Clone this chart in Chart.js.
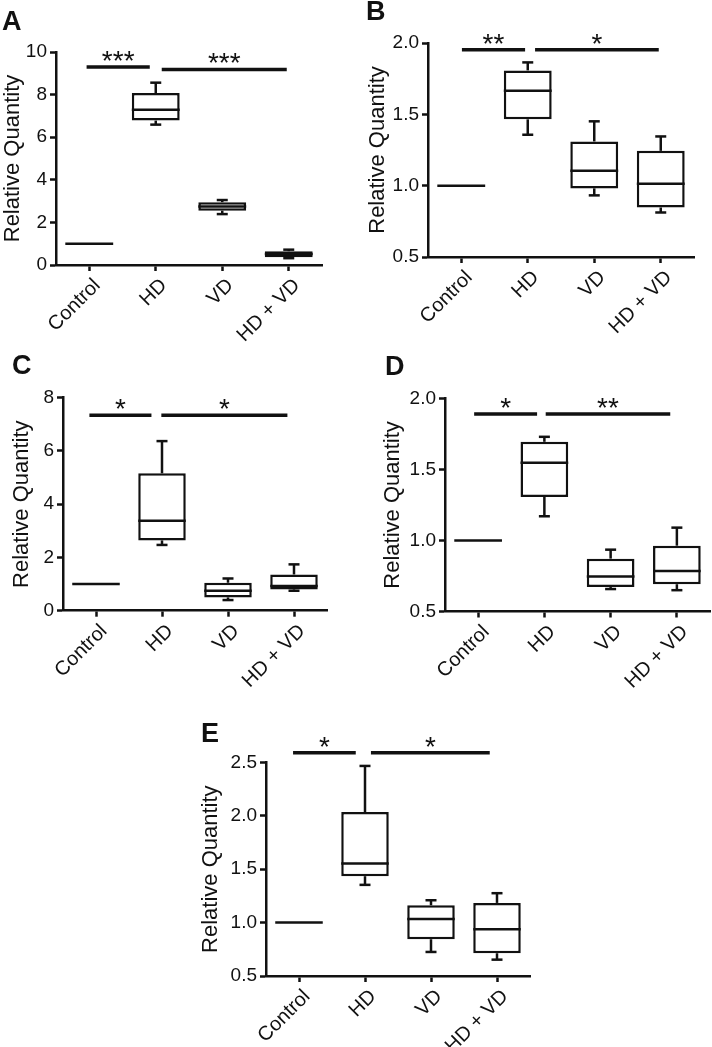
<!DOCTYPE html>
<html>
<head>
<meta charset="utf-8">
<script src="https://cdn.jsdelivr.net/npm/chart.js@4.4.1/dist/chart.umd.min.js"></script>
<style>
  html, body { margin: 0; padding: 0; background: #fff; }
  #wrap { position: relative; width: 712px; height: 1047px; background: #fff; overflow: hidden; }
  .panel { position: absolute; }
  .letter { position: absolute; font-family: "Liberation Sans", Arial, sans-serif; font-weight: bold; font-size: 27px; line-height: 27px; color: #111; }
</style>
</head>
<body>
<div id="wrap">
  <div class="panel" style="left:0px;top:0px;width:345px;height:345px"><canvas id="cA"></canvas></div>
  <div class="panel" style="left:355px;top:0px;width:357px;height:345px"><canvas id="cB"></canvas></div>
  <div class="panel" style="left:0px;top:350px;width:345px;height:345px"><canvas id="cC"></canvas></div>
  <div class="panel" style="left:355px;top:350px;width:357px;height:345px"><canvas id="cD"></canvas></div>
  <div class="panel" style="left:180px;top:720px;width:360px;height:327px"><canvas id="cE"></canvas></div>
  <div class="letter" style="left:2px;top:8px">A</div>
  <div class="letter" style="left:366px;top:-2px">B</div>
  <div class="letter" style="left:12px;top:352px">C</div>
  <div class="letter" style="left:385px;top:353px">D</div>
  <div class="letter" style="left:201px;top:720px">E</div>
</div>
<script>
// ---------------- DATA ----------------
const categories = ['Control', 'HD', 'VD', 'HD + VD'];

// Panel A
const minA = [1, 6.59, 2.39, 0.32];
const q1A  = [1, 6.78, 2.55, 0.36];
const medA = [1, 7.29, 2.75, 0.52];
const q3A  = [1, 8.07, 2.95, 0.65];
const maxA = [1, 8.56, 3.05, 0.72];
const yTicksA  = [0, 2, 4, 6, 8, 10];
const yLabelsA = ['0', '2', '4', '6', '8', '10'];
const sigLabelsA = ['***', '***'];
const sigLevelsA = [9.30, 9.18];
const sigFromA = [-0.04, 1.09];
const sigToA   = [0.91, 2.97];

// Panel B
const minB = [1, 1.357, 0.932, 0.812];
const q1B  = [1, 1.465, 0.981, 0.847];
const medB = [1, 1.665, 1.104, 1.014];
const q3B  = [1, 1.808, 1.310, 1.244];
const maxB = [1, 1.864, 1.451, 1.345];
const yTicksB  = [0.5, 1.0, 1.5, 2.0];
const yLabelsB = ['0.5', '1.0', '1.5', '2.0'];
const sigLabelsB = ['**', '*'];
const sigLevelsB = [1.953, 1.953];
const sigFromB = [0.01, 1.11];
const sigToB   = [0.96, 2.97];

// Panel C
const minC = [1, 2.47, 0.40, 0.75];
const q1C  = [1, 2.64, 0.50, 0.80];
const medC = [1, 3.38, 0.75, 0.93];
const q3C  = [1, 5.16, 1.05, 1.36];
const maxC = [1, 6.37, 1.21, 1.74];
const yTicksC  = [0, 2, 4, 6, 8];
const yLabelsC = ['0', '2', '4', '6', '8'];
const sigLabelsC = ['*', '*'];
const sigLevelsC = [7.34, 7.34];
const sigFromC = [-0.10, 0.99];
const sigToC   = [0.84, 2.90];

// Panel D
const minD = [1, 1.170, 0.658, 0.650];
const q1D  = [1, 1.306, 0.672, 0.692];
const medD = [1, 1.546, 0.747, 0.785];
const q3D  = [1, 1.694, 0.872, 0.963];
const maxD = [1, 1.729, 0.935, 1.090];
const yTicksD  = [0.5, 1.0, 1.5, 2.0];
const yLabelsD = ['0.5', '1.0', '1.5', '2.0'];
const sigLabelsD = ['*', '**'];
const sigLevelsD = [1.89, 1.89];
const sigFromD = [-0.06, 1.02];
const sigToD   = [0.89, 2.90];

// Panel E
const minE = [1, 1.353, 0.725, 0.653];
const q1E  = [1, 1.434, 0.844, 0.713];
const medE = [1, 1.553, 1.034, 0.938];
const q3E  = [1, 2.034, 1.162, 1.184];
const maxE = [1, 2.466, 1.209, 1.275];
const yTicksE  = [0.5, 1.0, 1.5, 2.0, 2.5];
const yLabelsE = ['0.5', '1.0', '1.5', '2.0', '2.5'];
const sigLabelsE = ['*', '*'];
const sigLevelsE = [2.59, 2.59];
const sigFromE = [-0.09, 1.09];
const sigToE   = [0.86, 2.89];

// ---------------- STYLE / LAYOUT ----------------
const FONT = '"Liberation Sans", Arial, sans-serif';
const INK = '#111';
const LW = 2.5;
const BAR_PCT = 0.72;

function makeExtras(d) {
  return {
    id: 'boxExtras',
    afterDatasetsDraw(chart) {
      const { ctx, scales: { x, y } } = chart;
      const catW = x.getPixelForValue(1) - x.getPixelForValue(0);
      const half = catW * BAR_PCT / 2;
      const capHalf = 5.5;
      ctx.save();
      ctx.strokeStyle = INK;
      ctx.lineWidth = LW;
      ctx.lineCap = 'butt';
      const seg = (x1, y1, x2, y2) => { ctx.beginPath(); ctx.moveTo(x1, y1); ctx.lineTo(x2, y2); ctx.stroke(); };
      d.med.forEach((m, i) => {
        const cx = x.getPixelForValue(i);
        if (d.max[i] > d.q3[i]) {
          const yt = y.getPixelForValue(d.max[i]);
          seg(cx, y.getPixelForValue(d.q3[i]), cx, yt);
          seg(cx - capHalf, yt, cx + capHalf, yt);
        }
        if (d.min[i] < d.q1[i]) {
          const yb = y.getPixelForValue(d.min[i]);
          seg(cx, y.getPixelForValue(d.q1[i]), cx, yb);
          seg(cx - capHalf, yb, cx + capHalf, yb);
        }
        const ym = y.getPixelForValue(m);
        seg(cx - half, ym, cx + half, ym);
      });
      ctx.restore();
    },
    afterDraw(chart) {
      const { ctx, scales: { x, y } } = chart;
      ctx.save();
      ctx.strokeStyle = INK;
      ctx.fillStyle = INK;
      ctx.lineWidth = 3.5;
      ctx.font = '28px ' + FONT;
      ctx.textAlign = 'center';
      ctx.textBaseline = 'alphabetic';
      d.sigLabels.forEach((lab, k) => {
        const x1 = x.getPixelForValue(d.sigFrom[k]);
        const x2 = x.getPixelForValue(d.sigTo[k]);
        const yy = y.getPixelForValue(d.sigLevels[k]);
        ctx.beginPath(); ctx.moveTo(x1, yy); ctx.lineTo(x2, yy); ctx.stroke();
        ctx.fillText(lab, (x1 + x2) / 2, yy + 3);
      });
      ctx.restore();
    }
  };
}

function makePanel(id, d, lay) {
  const boxes = d.q1.map((v, i) => (v === d.q3[i] ? null : [v, d.q3[i]]));
  new Chart(document.getElementById(id), {
    type: 'bar',
    data: {
      labels: categories,
      datasets: [{
        data: boxes,
        backgroundColor: '#fff',
        borderColor: INK,
        borderWidth: LW,
        borderSkipped: false,
        barPercentage: BAR_PCT,
        categoryPercentage: 1
      }]
    },
    options: {
      responsive: true,
      maintainAspectRatio: false,
      animation: false,
      events: [],
      layout: { padding: { left: lay.padLeft, top: lay.padTop, right: lay.padRight, bottom: 0 } },
      plugins: { legend: { display: false }, tooltip: { enabled: false }, title: { display: false } },
      scales: {
        x: {
          type: 'category',
          offset: true,
          grid: { display: true, drawOnChartArea: false, offset: false, tickLength: 6, tickWidth: LW, tickColor: INK, color: INK },
          border: { display: true, color: INK, width: LW },
          ticks: { color: INK, font: { family: FONT, size: 20 }, minRotation: 45, maxRotation: 45, autoSkip: false, padding: 3, labelOffset: 8 },
          afterFit: s => { s.height = lay.xH; }
        },
        y: {
          type: 'linear',
          min: d.yTicks[0],
          max: d.yTicks[d.yTicks.length - 1],
          afterBuildTicks: s => { s.ticks = d.yTicks.map(v => ({ value: v })); },
          grid: { display: true, drawOnChartArea: false, tickLength: 6, tickWidth: LW, tickColor: INK, color: INK },
          border: { display: true, color: INK, width: LW },
          ticks: { color: INK, font: { family: FONT, size: 19 }, padding: 3, callback: (v, i) => d.yLabels[i] },
          title: { display: true, text: 'Relative Quantity', color: INK, font: { family: FONT, size: 22 }, padding: 0 },
          afterFit: s => { s.width = lay.yW; }
        }
      }
    },
    plugins: [makeExtras(d)]
  });
}

makePanel('cA', { min: minA, q1: q1A, med: medA, q3: q3A, max: maxA, yTicks: yTicksA, yLabels: yLabelsA,
  sigLabels: sigLabelsA, sigLevels: sigLevelsA, sigFrom: sigFromA, sigTo: sigToA },
  { padLeft: 0, padTop: 52, padRight: 23, yW: 56, xH: 80 });
makePanel('cB', { min: minB, q1: q1B, med: medB, q3: q3B, max: maxB, yTicks: yTicksB, yLabels: yLabelsB,
  sigLabels: sigLabelsB, sigLevels: sigLevelsB, sigFrom: sigFromB, sigTo: sigToB },
  { padLeft: 10, padTop: 43, padRight: 18, yW: 63, xH: 88 });
makePanel('cC', { min: minC, q1: q1C, med: medC, q3: q3C, max: maxC, yTicks: yTicksC, yLabels: yLabelsC,
  sigLabels: sigLabelsC, sigLevels: sigLevelsC, sigFrom: sigFromC, sigTo: sigToC },
  { padLeft: 8.5, padTop: 47.7, padRight: 18, yW: 54.5, xH: 84.3 });
makePanel('cD', { min: minD, q1: q1D, med: medD, q3: q3D, max: maxD, yTicks: yTicksD, yLabels: yLabelsD,
  sigLabels: sigLabelsD, sigLevels: sigLevelsD, sigFrom: sigFromD, sigTo: sigToD },
  { padLeft: 24.5, padTop: 48.3, padRight: 2, yW: 65.5, xH: 83.5 });
makePanel('cE', { min: minE, q1: q1E, med: medE, q3: q3E, max: maxE, yTicks: yTicksE, yLabels: yLabelsE,
  sigLabels: sigLabelsE, sigLevels: sigLevelsE, sigFrom: sigFromE, sigTo: sigToE },
  { padLeft: 17.5, padTop: 42.3, padRight: 10, yW: 68.5, xH: 71 });
</script>
</body>
</html>
